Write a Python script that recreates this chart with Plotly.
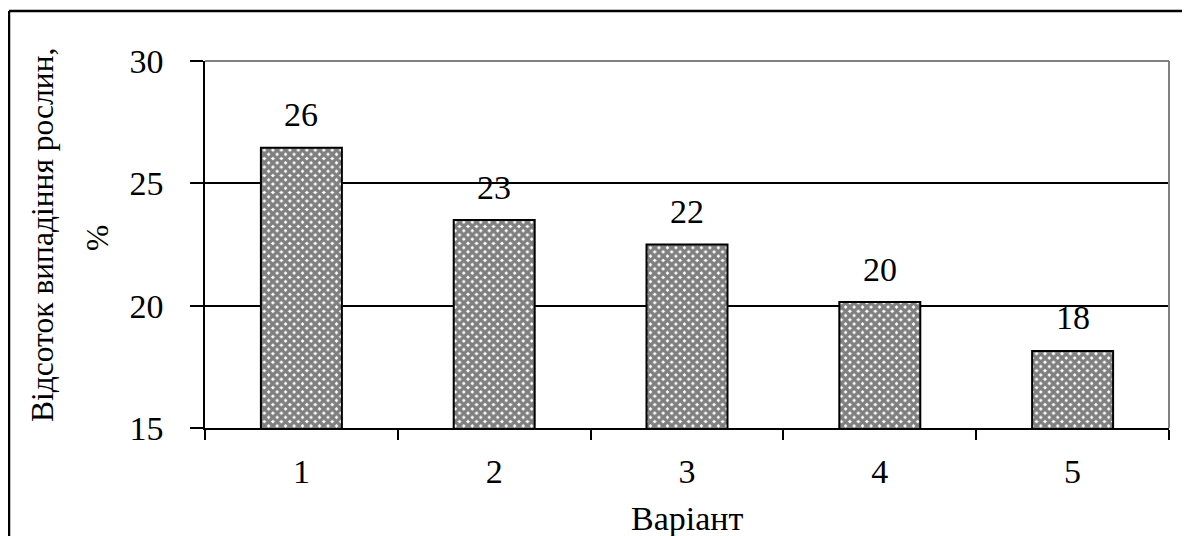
import plotly.graph_objects as go

categories = ["1", "2", "3", "4", "5"]
values = [26.45, 23.5, 22.5, 20.15, 18.15]
labels = ["26", "23", "22", "20", "18"]
y_ticks = [15, 20, 25, 30]

FONT = "'Liberation Serif', 'Times New Roman', serif"
FS = 34

# page body has an 8px margin: figure is sized / offset to compensate
FIG_W, FIG_H = 1182, 528
L, R, T, B = 197, 21, 53, 108
W = FIG_W - L - R
H = FIG_H - T - B

fig = go.Figure()
fig.add_trace(go.Bar(
    x=categories, y=values,
    marker=dict(color="white",
                line=dict(color="black", width=2),
                pattern=dict(shape="x", fgcolor="black", bgcolor="white", size=6, solidity=0.8)),
    width=0.42,
    hoverinfo="skip",
))

for i, (v, t) in enumerate(zip(values, labels)):
    fig.add_annotation(x=i, y=v, text=t, showarrow=False, yanchor="middle", yshift=33,
                       font=dict(family=FONT, size=FS, color="black"))

# Axis titles
fig.add_annotation(xref="paper", yref="paper", x=(34 - L) / W, y=(H + T - 227) / H,
                   xanchor="center", yanchor="middle",
                   text="Відсоток випадіння рослин,",
                   textangle=-90, showarrow=False, font=dict(family=FONT, size=31.5, color="black"))
fig.add_annotation(xref="paper", yref="paper", x=(89 - L) / W, y=(H + T - 230) / H,
                   xanchor="center", yanchor="middle", text="%",
                   textangle=-90, showarrow=False, font=dict(family=FONT, size=31.5, color="black"))
fig.add_annotation(xref="paper", yref="paper", x=0.5, y=(H + T - 510) / H, text="Варіант",
                   yanchor="middle", showarrow=False, font=dict(family=FONT, size=FS, color="black"))

# Plot-area top/right gray border
fig.add_shape(type="line", xref="paper", yref="paper", x0=0, x1=1, y0=1, y1=1,
              line=dict(color="#808080", width=2), layer="above")
fig.add_shape(type="line", xref="paper", yref="paper", x0=1, x1=1, y0=0, y1=1,
              line=dict(color="#808080", width=2), layer="above")
# Outer chart frame (left and top visible)
fig.add_shape(type="line", xref="paper", yref="paper", x0=(1 - L) / W, x1=(FIG_W + 10 - L) / W,
              y0=(H + T - 3) / H, y1=(H + T - 3) / H, line=dict(color="black", width=2.5))
fig.add_shape(type="line", xref="paper", yref="paper", x0=(1 - L) / W, x1=(1 - L) / W,
              y0=(H + T - 3) / H, y1=-(B + 10) / H, line=dict(color="black", width=2.5))

fig.update_layout(
    width=FIG_W, height=FIG_H,
    margin=dict(l=L, r=R, t=T, b=B, autoexpand=False),
    paper_bgcolor="white", plot_bgcolor="white",
    showlegend=False,
    font=dict(family=FONT, size=FS, color="black"),
    xaxis=dict(type="category", showline=True, linecolor="black", linewidth=1.5,
               ticks="outside", ticklen=10, tickwidth=1.5, tickcolor="black",
               tickson="boundaries", showgrid=False, ticklabelstandoff=12,
               tickfont=dict(family=FONT, size=FS, color="black")),
    yaxis=dict(range=[15, 30], tickvals=y_ticks, showline=True, linecolor="black", linewidth=1.5,
               ticks="outside", ticklen=13, tickwidth=1.5, tickcolor="black",
               showgrid=True, gridcolor="black", gridwidth=1.5, zeroline=False,
               ticklabelstandoff=20,
               tickfont=dict(family=FONT, size=FS, color="black")),
)

fig.write_html("out.html")
